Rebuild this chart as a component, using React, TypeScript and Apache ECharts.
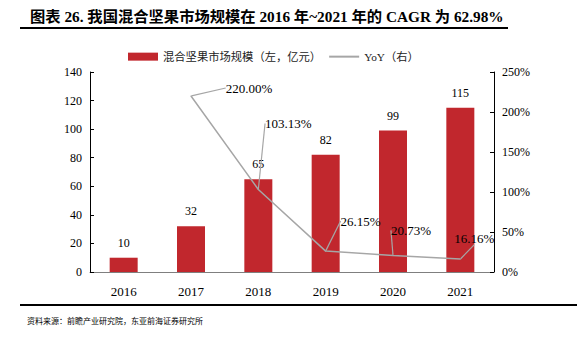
import React, { useEffect, useRef } from "react";
import * as echarts from "echarts";

const categories = ["2016", "2017", "2018", "2019", "2020", "2021"];
const marketSize = [10, 32, 65, 82, 99, 115];
const yoy: (number | null)[] = [null, 220.0, 103.13, 26.15, 20.73, 16.16];
const leftTicks = { min: 0, max: 140, interval: 20 };
const rightTicks = { min: 0, max: 250, interval: 50 };
const labelOffsets = [
  [0, 0],
  [58, -8],
  [30, -66],
  [35, -30],
  [18, -25],
  [14, -21],
];

const titleText = "图表 26. 我国混合坚果市场规模在 2016 年~2021 年的 CAGR 为 62.98%";
const sourceText = "资料来源：前瞻产业研究院，东亚前海证券研究所";
const barName = "混合坚果市场规模（左，亿元）";
const lineName = "YoY（右）";

const SERIF = "'Liberation Serif', 'Times New Roman', 'Noto Sans CJK SC', serif";
const RED = "#C1272D";
const GRAY = "#A6A6A6";

export default function App() {
  const ref = useRef<HTMLDivElement>(null);
  useEffect(() => {
    if (!ref.current) return;
    const chart = echarts.init(ref.current, undefined, { renderer: "svg" });
    chart.setOption({
      animation: false,
      backgroundColor: "#ffffff",
      textStyle: { fontFamily: SERIF },
      grid: { left: 90, right: 83, top: 72, bottom: 67, containLabel: false },
      legend: {
        top: 46,
        left: 123,
        itemGap: 7,
        itemWidth: 30,
        itemHeight: 8,
        textStyle: { fontSize: 11.3, color: "#222", fontFamily: SERIF },
        data: [
          { name: barName, icon: "rect" },
          { name: lineName, itemStyle: { opacity: 0 } },
        ],
      },
      xAxis: {
        type: "category",
        data: categories,
        axisLine: { lineStyle: { color: "#7f7f7f", width: 1 } },
        axisTick: { show: false },
        axisLabel: { color: "#000", fontSize: 13, margin: 13, fontFamily: SERIF },
      },
      yAxis: [
        {
          type: "value",
          min: leftTicks.min,
          max: leftTicks.max,
          interval: leftTicks.interval,
          axisLine: { show: true, lineStyle: { color: "#000", width: 1 } },
          axisTick: { show: true, inside: true, length: 4, lineStyle: { color: "#000" } },
          splitLine: { show: false },
          axisLabel: { color: "#000", fontSize: 12, margin: 8, fontFamily: SERIF },
        },
        {
          type: "value",
          min: rightTicks.min,
          max: rightTicks.max,
          interval: rightTicks.interval,
          position: "right",
          axisLine: { show: true, lineStyle: { color: "#000", width: 1 } },
          axisTick: { show: true, inside: true, length: 4, lineStyle: { color: "#000" } },
          splitLine: { show: false },
          axisLabel: { color: "#000", fontSize: 12, margin: 8, formatter: "{value}%", fontFamily: SERIF },
        },
      ],
      series: [
        {
          name: barName,
          type: "bar",
          data: marketSize,
          barWidth: 28,
          itemStyle: { color: RED },
          label: {
            show: true,
            position: "top",
            distance: 9,
            color: "#000",
            fontSize: 12,
            fontFamily: SERIF,
          },
        },
        {
          name: lineName,
          type: "line",
          yAxisIndex: 1,
          data: yoy,
          symbol: "circle",
          symbolSize: 1,
          showSymbol: true,
          itemStyle: { color: GRAY },
          lineStyle: { color: GRAY, width: 1.5 },
          label: {
            show: true,
            position: "inside",
            color: "#000",
            fontSize: 13,
            fontFamily: SERIF,
            formatter: (p: any) => (p.value == null ? "" : Number(p.value).toFixed(2) + "%"),
          },
          labelLine: { show: true, lineStyle: { color: GRAY, width: 1.2 } },
          labelLayout: (p: any) => {
            const o = labelOffsets[p.dataIndex] || [0, 0];
            return { dx: o[0], dy: o[1], moveOverlap: false };
          },
        },
      ],
      graphic: [
        {
          type: "text",
          left: 30,
          top: 9,
          style: {
            text: titleText,
            fontSize: 15.3,
            fontWeight: "bold",
            fill: "#000",
            fontFamily: SERIF,
          },
        },
        {
          type: "line",
          shape: { x1: 20, y1: 28, x2: 508, y2: 28 },
          style: { stroke: "#000", lineWidth: 2 },
        },
        {
          type: "line",
          shape: { x1: 20, y1: 305, x2: 577, y2: 305 },
          style: { stroke: "#000", lineWidth: 2 },
        },
        {
          type: "text",
          left: 27,
          top: 317,
          style: {
            text: sourceText,
            fontSize: 8,
            fill: "#000",
            fontFamily: SERIF,
          },
        },
      ],
    });
    return () => chart.dispose();
  }, []);
  return (
    <div
      ref={ref}
      style={{ position: "absolute", left: 0, top: 0, width: 577, height: 339 }}
    />
  );
}
